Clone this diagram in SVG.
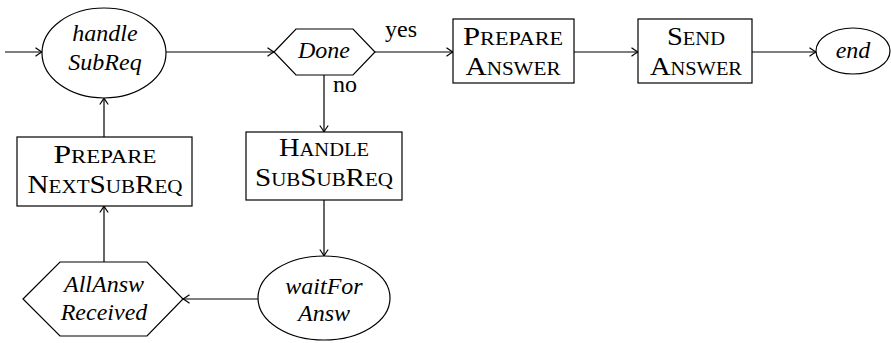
<svg xmlns="http://www.w3.org/2000/svg" width="891" height="343" viewBox="0 0 891 343">
  <defs>
    <marker id="arrow" markerWidth="10" markerHeight="10" refX="0" refY="0" viewBox="-7 -5 8 10" markerUnits="userSpaceOnUse" orient="auto">
      <path d="M -6.5 -4.2 Q -2 -1 0 0 Q -2 1 -6.5 4.2" fill="none" stroke="#000" stroke-width="1.2"/>
    </marker>
  </defs>
  <style>
    .shape { fill: #fff; stroke: #000; stroke-width: 1.2; }
    .edge { fill: none; stroke: #000; stroke-width: 1.2; marker-end: url(#arrow); }
    text { font-family: "Liberation Serif", "DejaVu Serif", serif; font-size: 24px; fill: #000; text-anchor: middle; }
    .it { font-style: italic; }
    .sc { font-variant: small-caps; font-size: 25px; }
    .lbl { text-anchor: start; }
  </style>

  <rect width="891" height="343" fill="#fff"/>

  <g id="connectors">
    <line class="edge" x1="5" y1="52" x2="42" y2="52"/>
    <line class="edge" x1="166" y1="52" x2="274" y2="52"/>
    <line class="edge" x1="375" y1="52" x2="453" y2="52"/>
    <line class="edge" x1="574" y1="52" x2="638" y2="52"/>
    <line class="edge" x1="752" y1="52" x2="816" y2="52"/>
    <line class="edge" x1="324" y1="75" x2="324" y2="132"/>
    <line class="edge" x1="324" y1="200" x2="324" y2="256"/>
    <line class="edge" x1="258" y1="299" x2="183" y2="299"/>
    <line class="edge" x1="104" y1="262" x2="104" y2="206"/>
    <line class="edge" x1="104" y1="137" x2="104" y2="98"/>
    <text class="lbl" x="385" y="37">yes</text>
    <text class="lbl" x="333" y="92">no</text>
  </g>

  <g id="handleSubReq">
    <ellipse class="shape" cx="104" cy="53" rx="62" ry="45"/>
    <text class="it" x="105" y="41">handle</text>
    <text class="it" x="105" y="70">SubReq</text>
  </g>

  <g id="done">
    <polygon class="shape" points="274,52 296,29 353,29 375,52 353,75 296,75"/>
    <text class="it" x="324" y="58">Done</text>
  </g>

  <g id="prepareAnswer">
    <rect class="shape" x="453" y="19" width="121" height="64"/>
    <text class="sc" x="513" y="45" textLength="100" lengthAdjust="spacingAndGlyphs">Prepare</text>
    <text class="sc" x="513" y="75" textLength="95" lengthAdjust="spacingAndGlyphs">Answer</text>
  </g>

  <g id="sendAnswer">
    <rect class="shape" x="638" y="19" width="114" height="64"/>
    <text class="sc" x="696" y="45" textLength="58" lengthAdjust="spacingAndGlyphs">Send</text>
    <text class="sc" x="696" y="75" textLength="92" lengthAdjust="spacingAndGlyphs">Answer</text>
  </g>

  <g id="end">
    <ellipse class="shape" cx="853" cy="51" rx="37" ry="23"/>
    <text class="it" x="853" y="58">end</text>
  </g>

  <g id="handleSubSubReq">
    <rect class="shape" x="246" y="132" width="156" height="68"/>
    <text class="sc" x="324" y="156" textLength="90" lengthAdjust="spacingAndGlyphs">Handle</text>
    <text class="sc" x="324" y="186" textLength="138" lengthAdjust="spacingAndGlyphs">SubSubReq</text>
  </g>

  <g id="waitForAnsw">
    <ellipse class="shape" cx="324" cy="298" rx="66" ry="42"/>
    <text class="it" x="324" y="294">waitFor</text>
    <text class="it" x="324" y="321">Answ</text>
  </g>

  <g id="allAnswReceived">
    <polygon class="shape" points="23,299 60,262 147,262 183,299 147,336 60,336"/>
    <text class="it" x="104" y="292">AllAnsw</text>
    <text class="it" x="104" y="320">Received</text>
  </g>

  <g id="prepareNextSubReq">
    <rect class="shape" x="17" y="137" width="175" height="69"/>
    <text class="sc" x="105" y="163" textLength="103" lengthAdjust="spacingAndGlyphs">Prepare</text>
    <text class="sc" x="105" y="193" textLength="155" lengthAdjust="spacingAndGlyphs">NextSubReq</text>
  </g>
</svg>
